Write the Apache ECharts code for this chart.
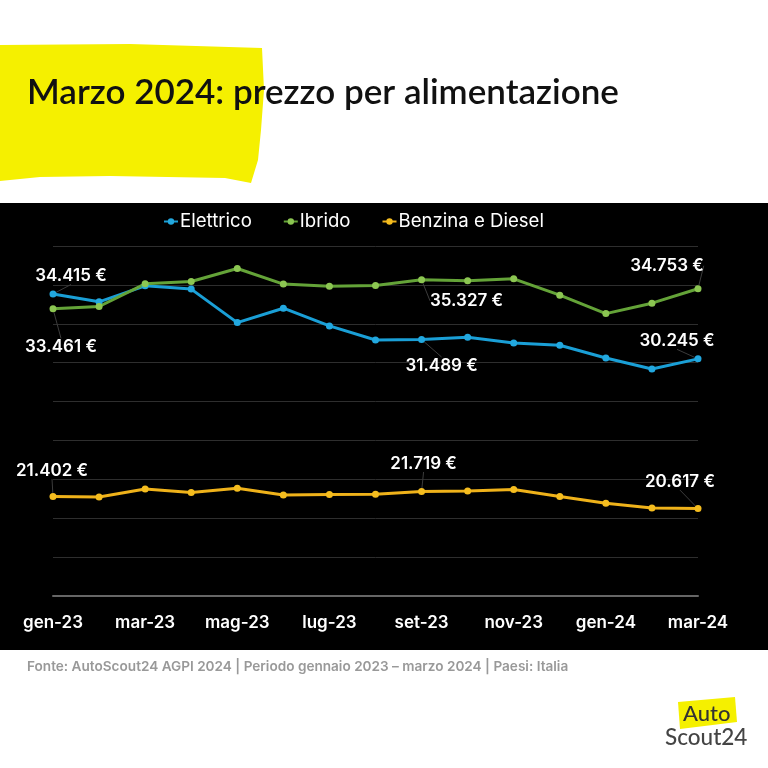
<!DOCTYPE html>
<html>
<head>
<meta charset="utf-8">
<style>html,body{margin:0;padding:0;background:#fff}#main{width:768px;height:768px}</style>
<script src="https://cdn.jsdelivr.net/npm/echarts@6/dist/echarts.min.js"></script>
</head>
<body>
<div id="main"></div>
<script>
// dati
var months = ['gen-23', 'feb-23', 'mar-23', 'apr-23', 'mag-23', 'giu-23', 'lug-23', 'ago-23', 'set-23', 'ott-23', 'nov-23', 'dic-23', 'gen-24', 'feb-24', 'mar-24'];
var elettrico = [34415, 33910, 34940, 34730, 32575, 33500, 32365, 31460, 31489, 31635, 31270, 31120, 30300, 29590, 30245];
var ibrido = [33461, 33610, 35070, 35220, 36055, 35050, 34920, 34960, 35327, 35260, 35390, 34340, 33155, 33825, 34753];
var benzina = [21402, 21370, 21880, 21650, 21925, 21495, 21520, 21540, 21719, 21755, 21840, 21390, 20960, 20655, 20617];
var titleText = 'Marzo 2024: prezzo per alimentazione';
var sourceText = 'Fonte: AutoScout24 AGPI 2024 | Periodo gennaio 2023 – marzo 2024 | Paesi: Italia';

var font = 'Inter';

// spostamento delle etichette rispetto al punto: indice -> [dx, dy]
var elettricoLabels = { 0: [18, -1], 8: [20, 43], 14: [-21, -1] };
var ibridoLabels = { 0: [8, 55], 8: [45, 38], 14: [-31, -6] };
var benzinaLabels = { 0: [-1, -9], 8: [2, -11], 14: [-18, -10] };

function euro(v) {
  return String(v).replace(/\B(?=(\d{3})+$)/g, '.') + ' €';
}

function lineSeries(name, values, color, dotColor, spots) {
  return {
    name: name,
    type: 'line',
    data: values.map(function (v, i) {
      if (!spots[i]) return v;
      return {
        value: v,
        label: { show: true, formatter: euro(v) },
        labelLine: { show: true, lineStyle: { color: '#3c3c3c', width: 1 } }
      };
    }),
    symbol: 'circle',
    symbolSize: 7,
    showAllSymbol: true,
    lineStyle: { color: color, width: 3 },
    itemStyle: { color: dotColor },
    label: {
      position: 'top',
      color: '#fff',
      fontFamily: font,
      fontSize: 17,
      fontWeight: 600
    },
    labelLayout: function (p) {
      var s = spots[p.dataIndex];
      return s ? { dx: s[0], dy: s[1] } : {};
    },
    animation: false
  };
}

var myChart = echarts.init(document.getElementById('main'), null, { renderer: 'canvas' });

var option = {
  backgroundColor: '#fff',
  title: [{
    text: titleText,
    left: 22,
    top: 70,
    textStyle: { fontFamily: 'Lato', fontSize: 35, fontWeight: 600, color: '#111' }
  }, {
    text: sourceText,
    left: 22,
    top: 655,
    textStyle: { fontFamily: font, fontSize: 13.6, fontWeight: 600, color: '#999' }
  }],
  legend: {
    top: 207,
    left: 158,
    itemWidth: 14,
    itemHeight: 8,
    itemGap: 31,
    textStyle: { color: '#fff', fontFamily: font, fontSize: 18.6, padding: [0, 0, 0, -3] },
    data: ['Elettrico', 'Ibrido', 'Benzina e Diesel']
  },
  grid: { left: 53, right: 70, top: 246, bottom: 172 },
  xAxis: {
    type: 'category',
    boundaryGap: false,
    data: months,
    axisLine: { lineStyle: { color: '#666', width: 2 } },
    axisTick: { show: false },
    axisLabel: {
      interval: 1,
      color: '#fff',
      fontFamily: font,
      fontSize: 17,
      fontWeight: 600,
      margin: 18
    }
  },
  yAxis: {
    type: 'value',
    min: 15000,
    max: 37500,
    interval: 2500,
    axisLine: { show: false },
    axisTick: { show: false },
    axisLabel: { show: false },
    splitLine: { lineStyle: { color: '#2e2e2e', width: 1 } }
  },
  series: [
    lineSeries('Elettrico', elettrico, '#1a9fd6', '#22a8df', elettricoLabels),
    lineSeries('Ibrido', ibrido, '#64a338', '#8cc652', ibridoLabels),
    lineSeries('Benzina e Diesel', benzina, '#efb21a', '#f5bd1f', benzinaLabels)
  ],
  graphic: [
    // fascia nera
    { type: 'rect', z: -10, shape: { x: 0, y: 203, width: 768, height: 447 }, style: { fill: '#000' } },
    // pennellata gialla
    {
      type: 'polygon', z: -10,
      shape: { points: [[0, 45], [130, 44], [262, 48], [264, 90], [261, 130], [258, 160], [251, 183], [225, 178], [110, 176], [40, 177], [0, 181]] },
      style: { fill: '#f5f000' }
    },
    // logo
    {
      type: 'polygon', z: -10,
      shape: { points: [[678, 702], [735, 697], [737, 722], [680, 729]] },
      style: { fill: '#f5f000' }
    },
    { type: 'text', z: 5, style: { x: 683, y: 703, text: 'Auto', fill: '#333', font: '500 22px Lato' } },
    { type: 'text', z: 5, style: { x: 665, y: 726, text: 'Scout24', fill: '#444', font: '500 22.5px Lato' } }
  ]
};

myChart.setOption(option);
</script>
</body>
</html>
